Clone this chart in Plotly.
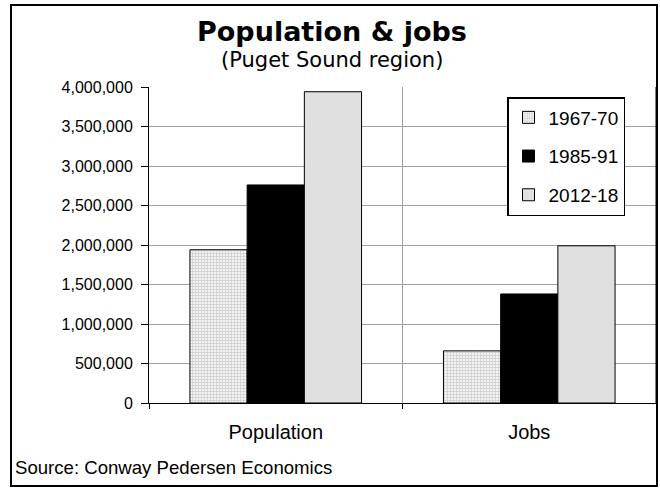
import plotly.graph_objects as go

categories = ["Population", "Jobs"]
series_names = ["1967-70", "1985-91", "2012-18"]
values_1967_70 = [1940000, 660000]
values_1985_91 = [2760000, 1380000]
values_2012_18 = [3940000, 1990000]
y_ticks = [0, 500000, 1000000, 1500000, 2000000, 2500000, 3000000, 3500000, 4000000]

W, H = 660, 489
L, R, T, B = 149, 4, 87, 86
pw, ph = W - L - R, H - T - B

def px_x(x):
    return (x - L) / pw

def px_y(y):
    return (H - B - y) / ph

fig = go.Figure()
fig.add_trace(go.Bar(
    x=categories, y=values_1967_70, name=series_names[0], legendgroup="a",
    marker=dict(color="#ffffff", line=dict(color="#000000", width=1),
                pattern=dict(shape="+", size=3, solidity=0.5, fgcolor="#b0b0b0", bgcolor="#f4f4f4")),
))
fig.add_trace(go.Bar(
    x=categories, y=values_1985_91, name=series_names[1], legendgroup="b",
    marker=dict(color="#000000", line=dict(color="#000000", width=1)),
))
fig.add_trace(go.Bar(
    x=categories, y=values_2012_18, name=series_names[2], legendgroup="c",
    marker=dict(color="#e0e0e0", line=dict(color="#000000", width=1)),
))

fig.update_layout(
    width=W, height=H,
    margin=dict(l=L, r=R, t=T, b=B, pad=0),
    paper_bgcolor="#ffffff", plot_bgcolor="#ffffff",
    barmode="group", bargap=0.323, bargroupgap=0,
    font=dict(family="Liberation Sans, Arial, sans-serif", color="#000000"),
    showlegend=True,
    legend=dict(x=px_x(507), y=px_y(97), xanchor="left", yanchor="top",
                bordercolor="#000000", borderwidth=1.5, bgcolor="#ffffff",
                font=dict(size=19, family="Liberation Sans, Arial, sans-serif"),
                traceorder="grouped", tracegroupgap=11, itemwidth=30),
    xaxis=dict(
        type="category", tickson="boundaries", ticks="outside", ticklen=5,
        tickcolor="#000000", showgrid=True, gridcolor="#a0a0a0", gridwidth=1,
        showline=True, linecolor="#000000", linewidth=1, mirror=False,
        tickfont=dict(size=20), ticklabelstandoff=11, zeroline=False,
    ),
    yaxis=dict(
        range=[0, 4000000], tickvals=y_ticks, tickformat=",",
        ticks="outside", ticklen=7, tickcolor="#000000",
        showgrid=True, gridcolor="#a0a0a0", gridwidth=1,
        showline=True, linecolor="#000000", linewidth=1,
        tickfont=dict(size=16), zeroline=False, ticklabelstandoff=5,
    ),
    shapes=[
        dict(type="rect", xref="paper", yref="paper",
             x0=px_x(11), x1=px_x(657), y0=px_y(486), y1=px_y(5),
             line=dict(color="#000000", width=2), fillcolor="rgba(0,0,0,0)", layer="below"),
        dict(type="line", xref="paper", yref="paper", x0=1, x1=1, y0=0, y1=1,
             line=dict(color="#000000", width=1)),
    ],
    annotations=[
        dict(text="<b>Population & jobs</b>", xref="paper", yref="paper",
             x=px_x(332), y=px_y(32), xanchor="center", yanchor="middle", showarrow=False,
             font=dict(size=27, family="DejaVu Sans, Verdana, sans-serif")),
        dict(text="(Puget Sound region)", xref="paper", yref="paper",
             x=px_x(332), y=px_y(60), xanchor="center", yanchor="middle", showarrow=False,
             font=dict(size=21, family="DejaVu Sans, Verdana, sans-serif")),
        dict(text="Source: Conway Pedersen Economics", xref="paper", yref="paper",
             x=px_x(13), y=px_y(467), xanchor="left", yanchor="middle", showarrow=False,
             font=dict(size=18.6)),
    ],
)

fig.write_html("out.html")
